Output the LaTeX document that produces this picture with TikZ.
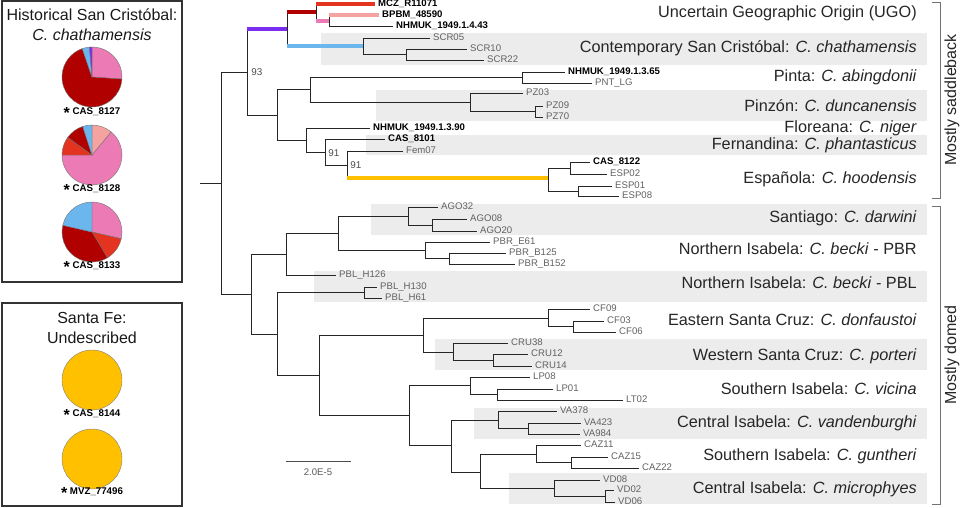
\documentclass[tikz,border=0pt]{standalone}
\usepackage{fontspec}
\setmainfont{Liberation Sans}
\definecolor{ugopurple}{HTML}{7A2EF0}
\definecolor{ugodark}{HTML}{B00000}
\definecolor{ugored}{HTML}{E4331F}
\definecolor{ugosalmon}{HTML}{F4A3A0}
\definecolor{ugopink}{HTML}{EC7BB5}
\definecolor{scrblue}{HTML}{6CB6EE}
\definecolor{feorange}{HTML}{FFC000}
\tikzset{
  branch/.style={draw=black!85, line width=0.65pt},
  bar/.style={line width=3.6pt},
  tip/.style={anchor=west, inner sep=2.4pt, outer sep=0pt, text height=5pt, text depth=1.2pt,
    font=\fontsize{7.2}{8}\selectfont, text=black!62},
  museum/.style={tip, font=\fontsize{7.2}{8}\selectfont\bfseries, text=black},
  clade/.style={anchor=east, inner sep=0pt, text height=8.6pt, text depth=2.4pt,
    font=\fontsize{12.2}{14}\selectfont, text=black!85},
  band/.style={fill=gray!15, draw=none},
  boot/.style={anchor=west, inner sep=0pt, font=\fontsize{7.4}{8}\selectfont, text=black!70},
  panel/.style={draw=black!80, line width=0.9pt},
  ptitle/.style={font=\fontsize{12}{14}\selectfont, text=black!90, inner sep=0pt},
  pielab/.style={font=\fontsize{7.3}{8}\selectfont\bfseries, inner sep=0pt},
  bracket/.style={draw=black!55, line width=0.6pt}
}
\newcommand{\pieslice}[4]{%
  \filldraw[fill=#4, draw=black!55, line width=0.3pt] (#1) -- ++({90-#2}:22.5pt)
    arc[start angle={90-#2}, end angle={90-#3}, radius=22.5pt] -- cycle;}
\newcommand{\bigstar}{{\fontsize{12}{12}\selectfont\raisebox{-0.45ex}{*}}}
\begin{document}
\begin{tikzpicture}[x=0.75pt, y=-0.75pt]
\useasboundingbox (0,0) rectangle (960,507);

\fill[band] (321,33) rectangle (927,65);
\fill[band] (376,90) rectangle (927,121);
\fill[band] (366,135) rectangle (927,155);
\fill[band] (371,204) rectangle (927,235);
\fill[band] (314,271) rectangle (927,302);
\fill[band] (435,339) rectangle (927,370);
\fill[band] (474,408) rectangle (927,439);
\fill[band] (509,473) rectangle (927,504);

\node[museum] (MCZ) at (375,4) {MCZ\_R11071};
\node[museum] (BPBM) at (379,15) {BPBM\_48590};
\node[museum] (NH443) at (393,26) {NHMUK\_1949.1.4.43};
\node[tip] (SCR05) at (430,38) {SCR05};
\node[tip] (SCR10) at (467,49) {SCR10};
\node[tip] (SCR22) at (484,60) {SCR22};
\node[museum] (NH365) at (565,72) {NHMUK\_1949.1.3.65};
\node[tip] (PNTLG) at (592,83) {PNT\_LG};
\node[tip] (PZ03) at (523,93) {PZ03};
\node[tip] (PZ09) at (543,106) {PZ09};
\node[tip] (PZ70) at (543,117) {PZ70};
\node[museum] (NH390) at (370,128) {NHMUK\_1949.1.3.90};
\node[museum] (CAS8101) at (385,139) {CAS\_8101};
\node[tip] (Fem07) at (403,151) {Fem07};
\node[museum] (CAS8122) at (590,162) {CAS\_8122};
\node[tip] (ESP02) at (607,174) {ESP02};
\node[tip] (ESP01) at (612,186) {ESP01};
\node[tip] (ESP08) at (619,196) {ESP08};
\node[tip] (AGO32) at (438,207) {AGO32};
\node[tip] (AGO08) at (467,219) {AGO08};
\node[tip] (AGO20) at (477,231) {AGO20};
\node[tip] (PBRE61) at (490,242) {PBR\_E61};
\node[tip] (PBRB125) at (506,253) {PBR\_B125};
\node[tip] (PBRB152) at (515,264) {PBR\_B152};
\node[tip] (PBLH126) at (336,275) {PBL\_H126};
\node[tip] (PBLH130) at (377,287) {PBL\_H130};
\node[tip] (PBLH61) at (382,298) {PBL\_H61};
\node[tip] (CF09) at (590,309) {CF09};
\node[tip] (CF03) at (604,321) {CF03};
\node[tip] (CF06) at (616,332) {CF06};
\node[tip] (CRU38) at (508,343) {CRU38};
\node[tip] (CRU12) at (528,354) {CRU12};
\node[tip] (CRU14) at (532,366) {CRU14};
\node[tip] (LP08) at (530,377) {LP08};
\node[tip] (LP01) at (553,389) {LP01};
\node[tip] (LT02) at (623,400) {LT02};
\node[tip] (VA378) at (557,411) {VA378};
\node[tip] (VA423) at (581,423) {VA423};
\node[tip] (VA984) at (580,434) {VA984};
\node[tip] (CAZ11) at (581,445) {CAZ11};
\node[tip] (CAZ15) at (608,457) {CAZ15};
\node[tip] (CAZ22) at (639,468) {CAZ22};
\node[tip] (VD08) at (600,480) {VD08};
\node[tip] (VD02) at (614,490) {VD02};
\node[tip] (VD06) at (615,502) {VD06};

\coordinate (stub) at (200,183);
\coordinate (root) at (221,183);
\coordinate (n93) at (247,72);
\coordinate (nugo) at (287,29);
\coordinate (nred) at (316,12);
\coordinate (npink) at (329,21);
\coordinate (nscr) at (363,46);
\coordinate (nscr2) at (406,54);
\coordinate (nsad) at (277,115);
\coordinate (npp) at (310,89);
\coordinate (npnt) at (522,77);
\coordinate (npz) at (470,102);
\coordinate (npz2) at (535,111);
\coordinate (nflo) at (306,140);
\coordinate (nfer) at (325,152);
\coordinate (n91) at (347,165);
\coordinate (nesp) at (548,178);
\coordinate (nesp1) at (570,168);
\coordinate (nesp2) at (578,191);
\coordinate (ndome) at (251,294);
\coordinate (nsan) at (286,254);
\coordinate (nago) at (338,233);
\coordinate (nago2) at (408,216);
\coordinate (nago3) at (432,225);
\coordinate (npbr) at (425,250);
\coordinate (npbr2) at (449,258);
\coordinate (nrest) at (277,334);
\coordinate (npbl) at (364,292);
\coordinate (nsc) at (319,375);
\coordinate (ncruz) at (423,335);
\coordinate (ncf) at (548,318);
\coordinate (ncf2) at (573,326);
\coordinate (ncru) at (453,352);
\coordinate (ncru2) at (493,360);
\coordinate (nisa) at (409,415);
\coordinate (nlp) at (470,385);
\coordinate (nlp2) at (497,394);
\coordinate (nva) at (451,445);
\coordinate (nva2) at (498,420);
\coordinate (nva3) at (528,428);
\coordinate (ncz) at (480,472);
\coordinate (ncaz) at (536,454);
\coordinate (ncaz2) at (571,462);
\coordinate (nvd) at (554,488);
\coordinate (nvd2) at (605,496);

\draw[branch] (stub) -- (root);
\draw[branch] (root) |- (n93);
\draw[branch] (root) |- (ndome);
\draw[branch] (n93) |- (nugo);
\draw[branch] (n93) |- (nsad);
\draw[branch] (nugo) |- (nred);
\draw[branch] (nugo) |- (nscr);
\draw[branch] (nred) |- (MCZ.west);
\draw[branch] (nred) |- (npink);
\draw[branch] (npink) |- (BPBM.west);
\draw[branch] (npink) |- (NH443.west);
\draw[branch] (nscr) |- (SCR05.west);
\draw[branch] (nscr) |- (nscr2);
\draw[branch] (nscr2) |- (SCR10.west);
\draw[branch] (nscr2) |- (SCR22.west);
\draw[branch] (nsad) |- (npp);
\draw[branch] (nsad) |- (nflo);
\draw[branch] (npp) |- (npnt);
\draw[branch] (npp) |- (npz);
\draw[branch] (npnt) |- (NH365.west);
\draw[branch] (npnt) |- (PNTLG.west);
\draw[branch] (npz) |- (PZ03.west);
\draw[branch] (npz) |- (npz2);
\draw[branch] (npz2) |- (PZ09.west);
\draw[branch] (npz2) |- (PZ70.west);
\draw[branch] (nflo) |- (NH390.west);
\draw[branch] (nflo) |- (nfer);
\draw[branch] (nfer) |- (CAS8101.west);
\draw[branch] (nfer) |- (n91);
\draw[branch] (n91) |- (Fem07.west);
\draw[branch] (n91) |- (nesp);
\draw[branch] (nesp) |- (nesp1);
\draw[branch] (nesp) |- (nesp2);
\draw[branch] (nesp1) |- (CAS8122.west);
\draw[branch] (nesp1) |- (ESP02.west);
\draw[branch] (nesp2) |- (ESP01.west);
\draw[branch] (nesp2) |- (ESP08.west);
\draw[branch] (ndome) |- (nsan);
\draw[branch] (ndome) |- (nrest);
\draw[branch] (nsan) |- (nago);
\draw[branch] (nsan) |- (PBLH126.west);
\draw[branch] (nago) |- (nago2);
\draw[branch] (nago) |- (npbr);
\draw[branch] (nago2) |- (AGO32.west);
\draw[branch] (nago2) |- (nago3);
\draw[branch] (nago3) |- (AGO08.west);
\draw[branch] (nago3) |- (AGO20.west);
\draw[branch] (npbr) |- (PBRE61.west);
\draw[branch] (npbr) |- (npbr2);
\draw[branch] (npbr2) |- (PBRB125.west);
\draw[branch] (npbr2) |- (PBRB152.west);
\draw[branch] (nrest) |- (npbl);
\draw[branch] (nrest) |- (nsc);
\draw[branch] (npbl) |- (PBLH130.west);
\draw[branch] (npbl) |- (PBLH61.west);
\draw[branch] (nsc) |- (ncruz);
\draw[branch] (nsc) |- (nisa);
\draw[branch] (ncruz) |- (ncf);
\draw[branch] (ncruz) |- (ncru);
\draw[branch] (ncf) |- (CF09.west);
\draw[branch] (ncf) |- (ncf2);
\draw[branch] (ncf2) |- (CF03.west);
\draw[branch] (ncf2) |- (CF06.west);
\draw[branch] (ncru) |- (CRU38.west);
\draw[branch] (ncru) |- (ncru2);
\draw[branch] (ncru2) |- (CRU12.west);
\draw[branch] (ncru2) |- (CRU14.west);
\draw[branch] (nisa) |- (nlp);
\draw[branch] (nisa) |- (nva);
\draw[branch] (nlp) |- (LP08.west);
\draw[branch] (nlp) |- (nlp2);
\draw[branch] (nlp2) |- (LP01.west);
\draw[branch] (nlp2) |- (LT02.west);
\draw[branch] (nva) |- (nva2);
\draw[branch] (nva) |- (ncz);
\draw[branch] (nva2) |- (VA378.west);
\draw[branch] (nva2) |- (nva3);
\draw[branch] (nva3) |- (VA423.west);
\draw[branch] (nva3) |- (VA984.west);
\draw[branch] (ncz) |- (ncaz);
\draw[branch] (ncz) |- (nvd);
\draw[branch] (ncaz) |- (CAZ11.west);
\draw[branch] (ncaz) |- (ncaz2);
\draw[branch] (ncaz2) |- (CAZ15.west);
\draw[branch] (ncaz2) |- (CAZ22.west);
\draw[branch] (nvd) |- (VD08.west);
\draw[branch] (nvd) |- (nvd2);
\draw[branch] (nvd2) |- (VD02.west);
\draw[branch] (nvd2) |- (VD06.west);

\draw[bar, ugopurple] (n93 |- nugo) -- (nugo);
\draw[bar, ugodark] (nugo |- nred) -- (nred);
\draw[bar, scrblue] (nugo |- nscr) -- (nscr);
\draw[bar, ugored] (nred |- MCZ.west) -- (MCZ.west);
\draw[bar, ugopink] (nred |- npink) -- (npink);
\draw[bar, ugosalmon] (npink |- BPBM.west) -- (BPBM.west);
\draw[bar, feorange] (n91 |- nesp) -- (nesp);

\node[boot] (b93) at (251,72) {93};
\node[boot] (b91a) at (328,153) {91};
\node[boot] (b91b) at (350,165) {91};

\coordinate (sbl) at (286,461);
\coordinate (sbr) at (351,461);
\draw[branch, draw=black!70] (sbl) -- (sbr);
\node[font=\fontsize{7.2}{8}\selectfont, text=black!65] (sblab) at (318,472) {2.0E-5};

\node[clade] (lugo) at (917,13) {Uncertain Geographic Origin (UGO)};
\node[clade] (lscr) at (917,48) {Contemporary San Cristóbal: \textit{C. chathamensis}};
\node[clade] (lpnt) at (917,77) {Pinta: \textit{C. abingdonii}};
\node[clade] (lpz) at (917,107) {Pinzón: \textit{C. duncanensis}};
\node[clade] (lflo) at (917,128) {Floreana: \textit{C. niger}};
\node[clade] (lfer) at (917,145) {Fernandina: \textit{C. phantasticus}};
\node[clade] (lesp) at (917,179) {Española: \textit{C. hoodensis}};
\node[clade] (lsan) at (917,218) {Santiago: \textit{C. darwini}};
\node[clade] (lpbr) at (917,250) {Northern Isabela: \textit{C. becki} - PBR};
\node[clade] (lpbl) at (917,284) {Northern Isabela: \textit{C. becki} - PBL};
\node[clade] (lcf) at (917,321) {Eastern Santa Cruz: \textit{C. donfaustoi}};
\node[clade] (lcru) at (917,356) {Western Santa Cruz: \textit{C. porteri}};
\node[clade] (lvic) at (917,390) {Southern Isabela: \textit{C. vicina}};
\node[clade] (lva) at (917,423) {Central Isabela: \textit{C. vandenburghi}};
\node[clade] (lcaz) at (917,456) {Southern Isabela: \textit{C. guntheri}};
\node[clade] (lvd) at (917,489) {Central Isabela: \textit{C. microphyes}};

\draw[bracket] (932,2) -- (940,2) -- (940,198) -- (932,198);
\draw[bracket] (932,206) -- (940,206) -- (940,504) -- (932,504);
\node[rotate=90, font=\fontsize{12}{14}\selectfont, text=black!85] (saddle) at (952,100) {Mostly saddleback};
\node[rotate=90, font=\fontsize{12}{14}\selectfont, text=black!85] (domed) at (952,355) {Mostly domed};

\draw[panel] (2,1) rectangle (182,282);
\node[ptitle] (htitle) at (92,15) {Historical San Cristóbal:};
\node[ptitle] (hsp) at (92,35) {\textit{C. chathamensis}};
\coordinate (pie1) at (92,77);
\coordinate (pie2) at (92,155);
\coordinate (pie3) at (92,232);
\pieslice{pie1}{0}{94}{ugopink}
\pieslice{pie1}{94}{341}{ugodark}
\pieslice{pie1}{341}{355}{scrblue}
\pieslice{pie1}{355}{360}{ugopurple}
\pieslice{pie2}{0}{40}{ugosalmon}
\pieslice{pie2}{40}{270}{ugopink}
\pieslice{pie2}{270}{306}{ugored}
\pieslice{pie2}{306}{342}{ugodark}
\pieslice{pie2}{342}{360}{scrblue}
\pieslice{pie3}{0}{103}{ugopink}
\pieslice{pie3}{103}{149}{ugored}
\pieslice{pie3}{149}{283}{ugodark}
\pieslice{pie3}{283}{360}{scrblue}
\node[pielab] (c8127) at (92,113) {\bigstar\ CAS\_8127};
\node[pielab] (c8128) at (92,190) {\bigstar\ CAS\_8128};
\node[pielab] (c8133) at (92,267) {\bigstar\ CAS\_8133};

\draw[panel] (2,303) rectangle (182,506);
\node[ptitle] (ftitle) at (92,318) {Santa Fe:};
\node[ptitle] (fsp) at (92,338) {Undescribed};
\coordinate (fe1) at (92,380);
\coordinate (fe2) at (92,459);
\filldraw[fill=feorange, draw=black!50, line width=0.3pt] (fe1) circle[radius=22.5pt];
\filldraw[fill=feorange, draw=black!50, line width=0.3pt] (fe2) circle[radius=22.5pt];
\node[pielab] (c8144) at (92,415) {\bigstar\ CAS\_8144};
\node[pielab] (c77496) at (92,493) {\bigstar\ MVZ\_77496};
\end{tikzpicture}
\end{document}
